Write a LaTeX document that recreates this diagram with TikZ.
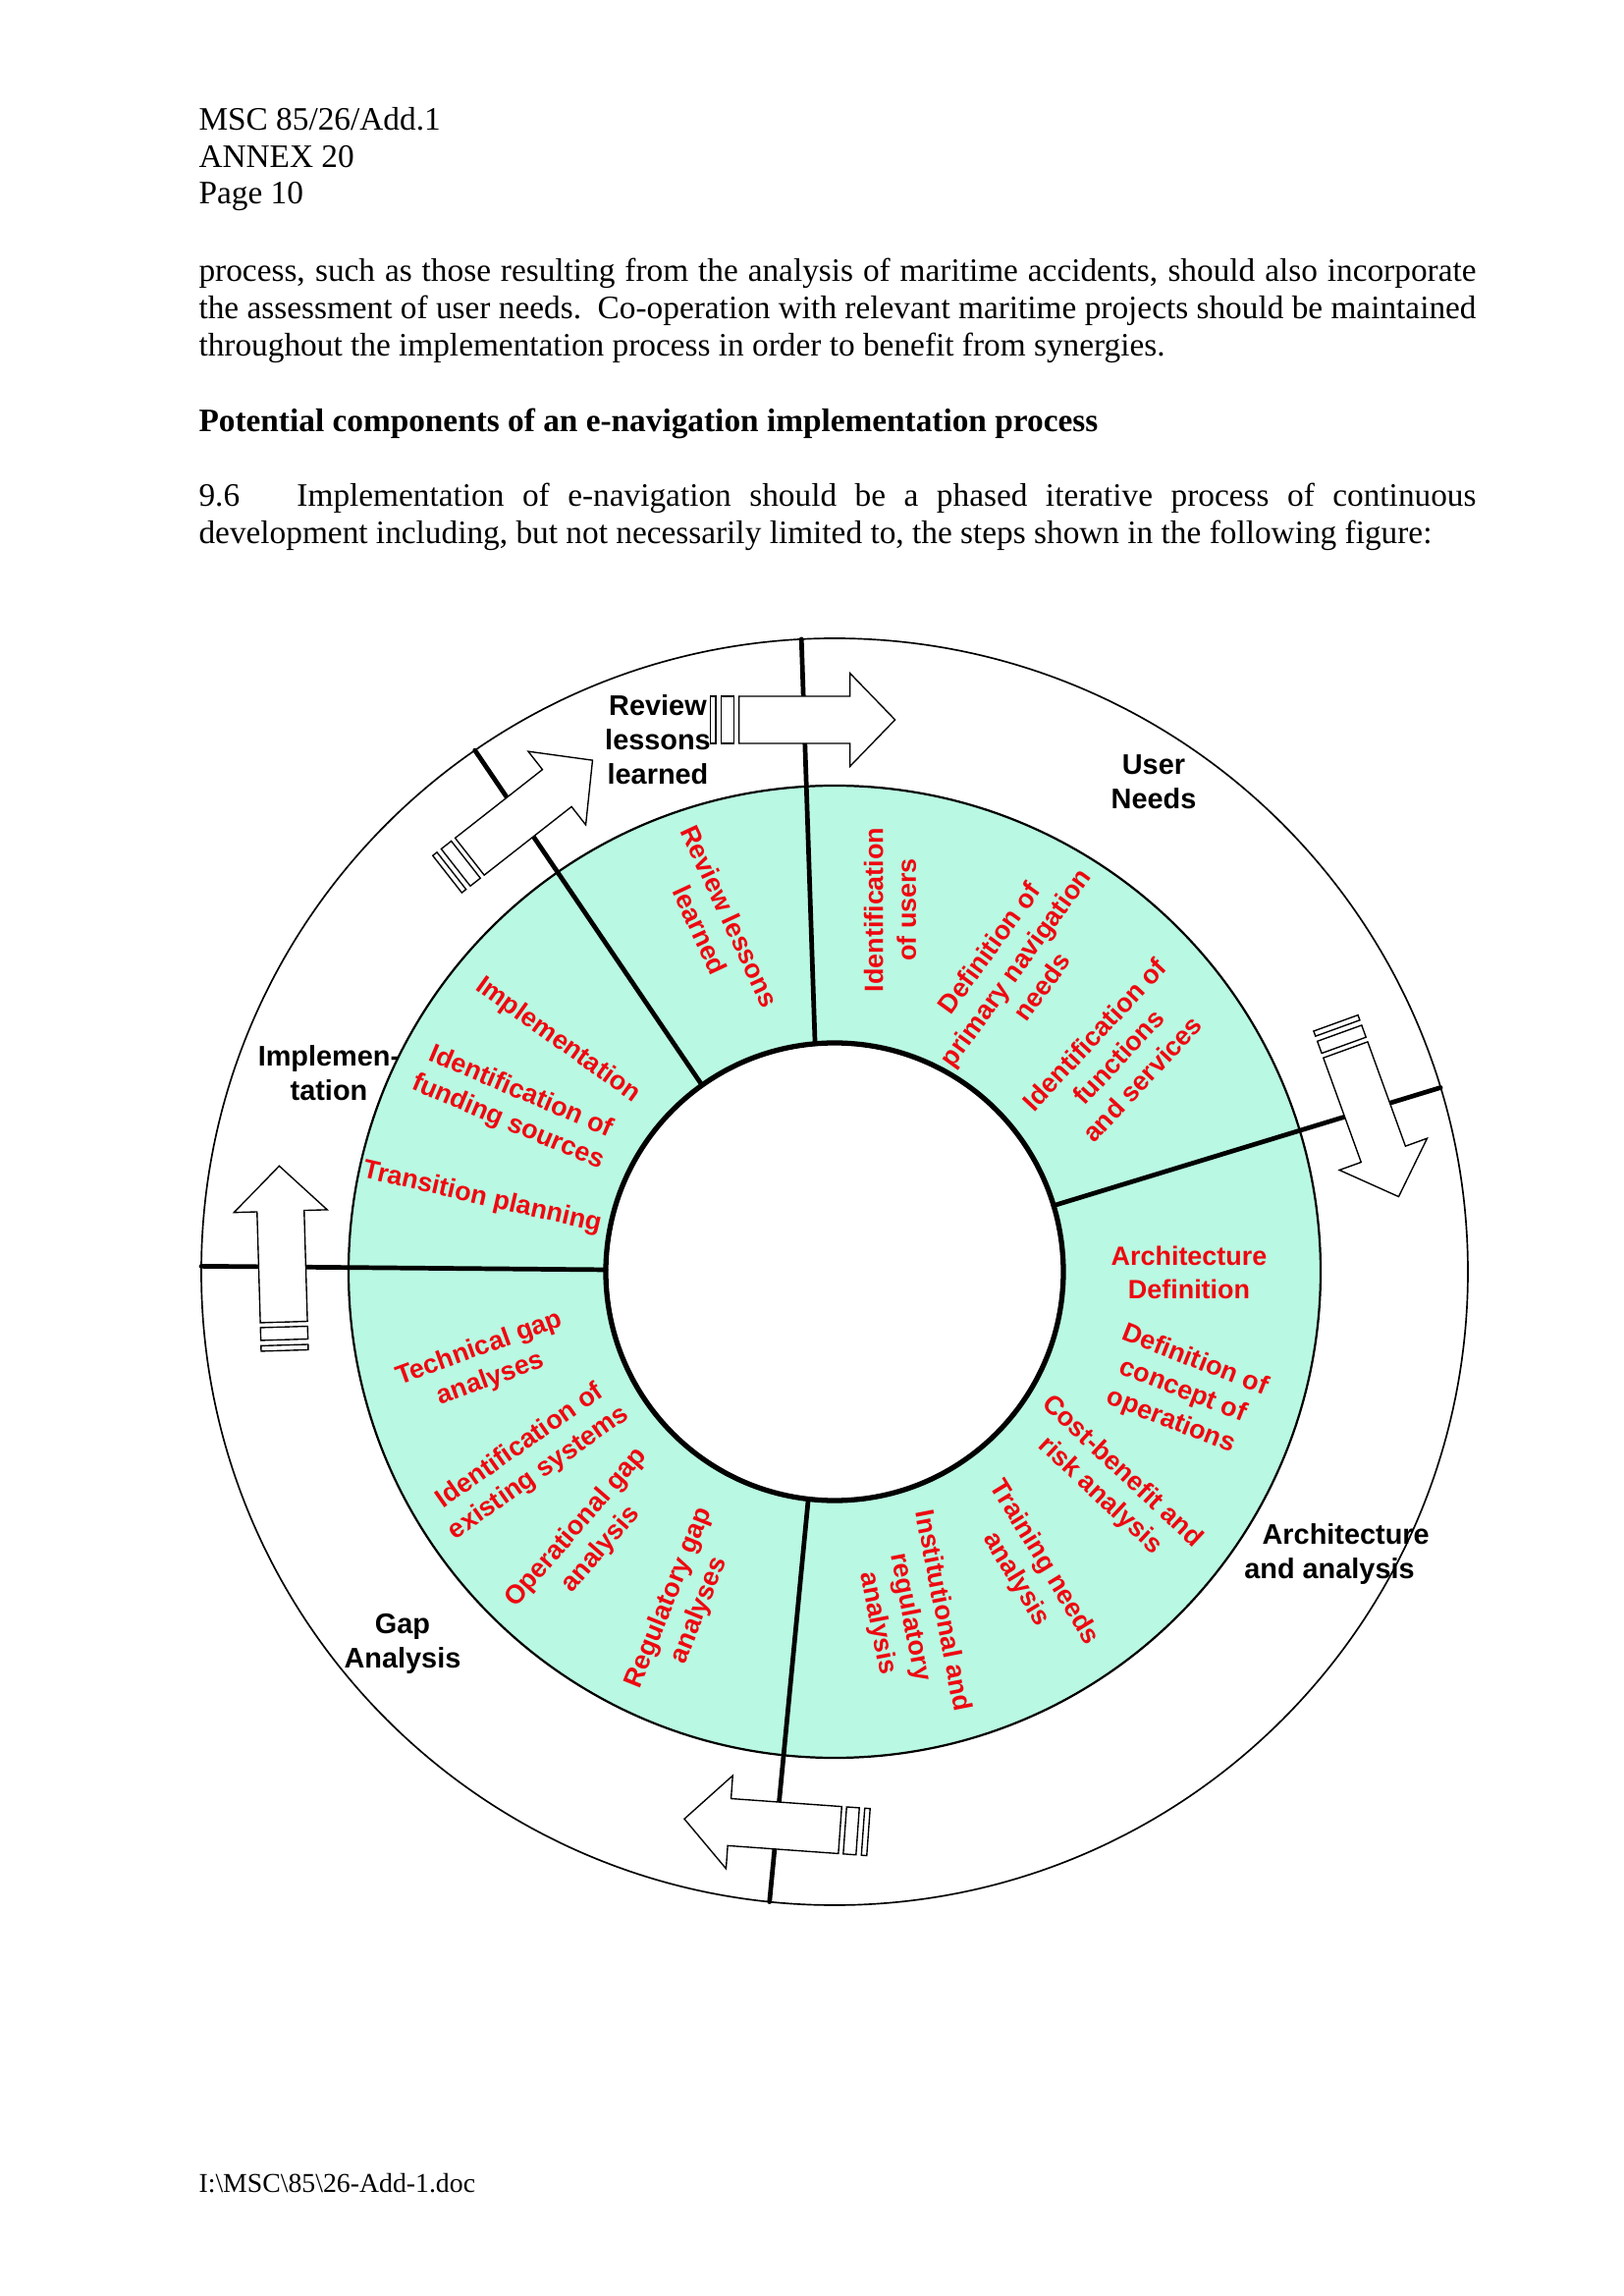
\documentclass[tikz,border=0pt]{standalone}
\usepackage{fontspec}
\setmainfont{Liberation Serif}
\setsansfont{Liberation Sans}
\definecolor{ringgreen}{RGB}{185,248,226}
\definecolor{taskred}{RGB}{238,8,16}
\tikzset{
  task/.style={font=\sffamily\bfseries\fontsize{9.7}{12}\selectfont, text=taskred, align=center, inner sep=0pt},
  phase/.style={font=\sffamily\bfseries\fontsize{10.4}{12.6}\selectfont, align=center, inner sep=0pt},
  divider/.style={line width=1.7pt, line cap=round},
  blockarrow/.style={draw, fill=white, line width=0.5pt, line join=miter},
  bodytext/.style={font=\fontsize{12}{13.6}\selectfont, inner sep=0pt, anchor=base west}
}
\newcommand{\phasearrow}[3]{%
  \begin{scope}[shift={(#1:#2)}, rotate=#3]
    \draw[blockarrow] (-94,-24) rectangle (-88.5,24);
    \draw[blockarrow] (-83,-24) rectangle (-70,24);
    \draw[blockarrow] (-65,-24) -- (48,-24) -- (48,-47.5) -- (94,0) -- (48,47.5) -- (48,24) -- (-65,24) -- cycle;
  \end{scope}}
\begin{document}
\begin{tikzpicture}[x=0.360119pt, y=0.360119pt]
      \path[use as bounding box, fill=white] (-850,-1043) rectangle (803,1295);
      \node[bodytext] (hdr1) at (-648,1162) {MSC 85/26/Add.1};
      \node[bodytext] (hdr2) at (-648,1124) {ANNEX 20};
      \node[bodytext] (hdr3) at (-648,1087) {Page 10};
      \node[bodytext, text width=468.5pt, align=justify] (para1) at (-648,1008)
        {\hyphenpenalty=10000 process, such as those resulting from the analysis of maritime accidents, should also incorporate\linebreak
         the assessment of user needs.\ \ Co-operation with relevant maritime projects should be maintained\linebreak
         throughout the implementation process in order to benefit from synergies.};
      \node[bodytext, font=\fontsize{12}{13.6}\selectfont\bfseries] (head) at (-648,855)
        {Potential components of an e-navigation implementation process};
      \node[bodytext, text width=468.5pt, align=justify] (para2) at (-648,779)
        {\hyphenpenalty=10000 \makebox[36pt][l]{9.6}Implementation of e-navigation should be a phased iterative process of continuous\linebreak
         development including, but not necessarily limited to, the steps shown in the following figure:};
      \node[bodytext, font=\fontsize{10}{12}\selectfont] (foot) at (-648,-937)
        {I:\textbackslash MSC\textbackslash 85\textbackslash 26-Add-1.doc};
      \fill[ringgreen, even odd rule] (0,0) circle[radius=495] (0,0) circle[radius=233];
      \draw[line width=0.8pt] (0,0) circle[radius=495];
      \draw[line width=0.6pt] (0,0) circle[radius=645];
      \draw[line width=1.9pt] (0,0) circle[radius=233];
      \begin{scope}[divider]
        \draw (94.9:233) -- (93:645);
        \draw (125.4:233) -- (124.6:645);
        \draw (179.5:233) -- (179.5:645);
        \draw (263.4:233) -- (264.1:645);
        \draw (16.8:233) -- (16.9:645);
      \end{scope}
      \phasearrow{93.3}{563}{0}
      \phasearrow{124.7}{563}{38.1}
      \phasearrow{16.9}{567}{-70.1}
      \phasearrow{264}{567}{175.9}
      \phasearrow{178.6}{563}{91.7}
      \node[phase] (review) at (-180,542) {Review\\lessons\\learned};
      \node[phase] (user) at (325,499) {User\\Needs};
      \node[phase] (archi) at (504,-288) {\hspace*{12pt}Architecture\\and analysis};
      \node[phase] (gap) at (-440,-378.5) {Gap\\Analysis};
      \node[phase] (impl) at (-515,202) {Implemen-\\tation};
      \node[task, rotate=-65] (rll) at (-121.7,355) {Review lessons\\learned};
      \node[task, rotate=90] (iou) at (56.5,368.5) {Identification\\of users};
      \node[task, rotate=54] (dpn) at (184,310) {Definition of\\primary navigation\\needs};
      \node[task, rotate=47] (ifs) at (289,219) {Identification of\\functions\\and services};
      \node[task] (ard) at (361,-1) {Architecture\\Definition};
      \node[task, rotate=-21.5] (dco) at (354.7,-121.7) {Definition of\\concept of\\operations};
      \node[task, rotate=-43] (cba) at (281.6,-215.9) {Cost-benefit and\\risk analysis};
      \node[task, rotate=-58.6] (tna) at (199,-304.8) {Training needs\\analysis};
      \node[task, rotate=-79] (ira) at (76.5,-351.8) {Institutional and\\regulatory\\analysis};
      \node[task, rotate=68] (rga) at (-153,-338.4) {Regulatory gap\\analyses};
      \node[task, rotate=49] (oga) at (-250.4,-271.8) {Operational gap\\analysis};
      \node[task, rotate=35] (ies) at (-310.6,-191.5) {Identification of\\existing systems};
      \node[task, rotate=20] (tga) at (-356,-94) {Technical gap\\analyses};
      \node[task, rotate=-13] (tpl) at (-359,75) {Transition planning};
      \node[task, rotate=-23] (ifd) at (-326.3,167.2) {Identification of\\funding sources};
      \node[task, rotate=-35.6] (imp) at (-281.6,235.5) {Implementation};
    \end{tikzpicture}
\end{document}
